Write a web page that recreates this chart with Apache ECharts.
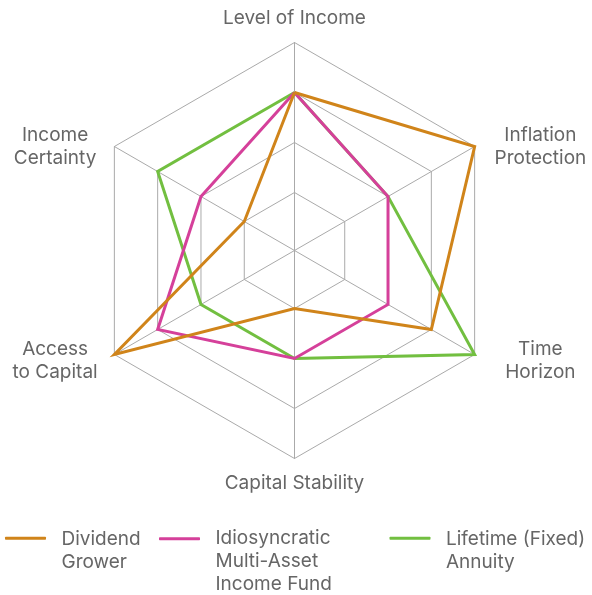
<!DOCTYPE html>
<html>
<head>
<meta charset="utf-8">
<script src="https://cdn.jsdelivr.net/npm/echarts@6/dist/echarts.min.js"></script>
<style>
html,body{margin:0;padding:0;background:#fff;}
#chart{width:592px;height:595px;}
</style>
</head>
<body>
<div id="chart"></div>
<script>
// Indicators in ECharts order (counter-clockwise from top)
var indicators = ['Level of Income', 'Income Certainty', 'Access to Capital', 'Capital Stability', 'Time Horizon', 'Inflation Protection'];
var seriesNames = ['Dividend Grower', 'Idiosyncratic Multi-Asset Income Fund', 'Lifetime (Fixed) Annuity'];
var dividendGrower = [3, 1, 4, 1, 3, 4];
var idiosyncratic = [3, 2, 3, 2, 2, 2];
var lifetimeAnnuity = [3, 3, 2, 2, 4, 2];
var ringValues = [1, 2, 3, 4];
var axisMin = -0.16;
var axisMax = 4;

var colors = ['#D0841A', '#D5409A', '#72BF40'];
var textColor = '#666666';
var gridColor = '#aaaaaa';
var FONT = 'Inter, "DejaVu Sans", sans-serif';
var FS = 19;

var centerPos = [294.5, 250.5];
var outerRadius = 208;

var labelText = {
  'Level of Income': '{c|Level of Income}',
  'Income Certainty': '{lt|Income}\n{lt|Certainty}',
  'Access to Capital': '{l|Access}\n{l|to Capital}',
  'Capital Stability': '{c|Capital Stability}',
  'Time Horizon': '{r|Time}\n{r|Horizon}',
  'Inflation Protection': '{rt|Inflation}\n{rt|Protection}'
};

function ringRadius(v) {
  return outerRadius * (v - axisMin) / (axisMax - axisMin);
}

var radars = [];
ringValues.forEach(function (v, i) {
  var isOuter = i === ringValues.length - 1;
  radars.push({
    center: centerPos,
    radius: ringRadius(v),
    shape: 'polygon',
    startAngle: 90,
    splitNumber: 1,
    indicator: indicators.map(function (n) { return { name: isOuter ? n : '', min: axisMin, max: axisMax }; }),
    axisName: {
      show: isOuter,
      color: textColor,
      fontFamily: FONT,
      fontSize: FS,
      formatter: function (name) { return labelText[name] || name; },
      rich: {
        c: { fontFamily: FONT, fontSize: FS, color: textColor, lineHeight: 23 },
        r: { fontFamily: FONT, fontSize: FS, color: textColor, lineHeight: 23, width: 109, align: 'center' },
        rt: { fontFamily: FONT, fontSize: FS, color: textColor, lineHeight: 23, width: 109, align: 'center', padding: [13, 0, 0, 0] },
        l: { fontFamily: FONT, fontSize: FS, color: textColor, lineHeight: 23, width: 96, align: 'center' },
        lt: { fontFamily: FONT, fontSize: FS, color: textColor, lineHeight: 23, width: 96, align: 'center', padding: [13, 0, 0, 0] }
      }
    },
    nameGap: 13,
    axisLine: { show: isOuter, lineStyle: { color: gridColor, width: 1 } },
    axisTick: { show: false },
    axisLabel: { show: false },
    splitLine: { show: true, lineStyle: { color: gridColor, width: 1 } },
    splitArea: { show: false }
  });
});

var outerIdx = ringValues.length - 1;
var seriesData = [dividendGrower, idiosyncratic, lifetimeAnnuity];
var drawOrder = [2, 1, 0];
var series = drawOrder.map(function (k) {
  return {
    type: 'radar',
    radarIndex: outerIdx,
    name: seriesNames[k],
    symbol: 'none',
    silent: true,
    z: 3 + (2 - k),
    lineStyle: { color: colors[k], width: 3, join: 'miter' },
    itemStyle: { color: colors[k] },
    areaStyle: null,
    data: [{ name: seriesNames[k], value: seriesData[k] }]
  };
});

var legendLabels = {
  'Dividend Grower': ['Dividend', 'Grower'],
  'Idiosyncratic Multi-Asset Income Fund': ['Idiosyncratic', 'Multi-Asset', 'Income Fund'],
  'Lifetime (Fixed) Annuity': ['Lifetime (Fixed)', 'Annuity']
};
var legendLeft = [0, 154, 384.5];
var legends = seriesNames.map(function (n, i) {
  var lines = legendLabels[n];
  var pad = lines.length === 3 ? 45 : 26;
  return {
    data: [n],
    left: legendLeft[i],
    top: lines.length === 3 ? 478.7 : 499.2,
    padding: 5,
    icon: 'roundRect',
    itemWidth: 41,
    itemHeight: 3,
    selectedMode: false,
    formatter: function (name) {
      return legendLabels[name].map(function (s) { return '{a|' + s + '}'; }).join('\n');
    },
    textStyle: {
      color: textColor,
      fontFamily: FONT,
      fontSize: FS,
      rich: {
        a: { fontFamily: FONT, fontSize: FS, color: textColor, lineHeight: 23, padding: [pad, 0, 0, 10.5] }
      }
    }
  };
});

var chart = echarts.init(document.getElementById('chart'), null, { renderer: 'canvas' });
chart.setOption({
  animation: false,
  backgroundColor: '#ffffff',
  color: colors,
  textStyle: { fontFamily: FONT },
  radar: radars,
  legend: legends,
  series: series
});
</script>
</body>
</html>
